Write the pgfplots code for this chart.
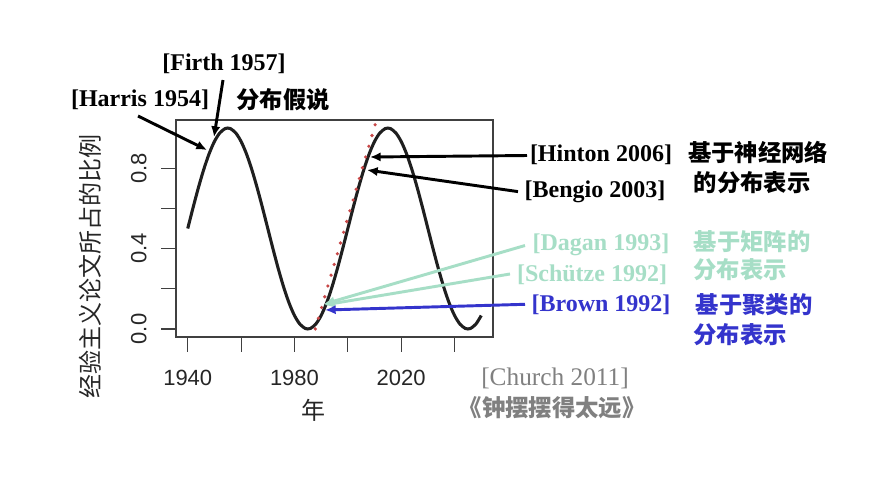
\documentclass[border=0pt]{standalone}
\usepackage{fontspec}
\usepackage{pgfplots}
\pgfplotsset{compat=1.18}
\usetikzlibrary{arrows.meta}
\setmainfont{Liberation Serif}
\newfontfamily\hel{Liberation Sans}
\newfontfamily\cjk{Noto Sans CJK SC}
\definecolor{mint}{RGB}{166,222,198}
\definecolor{cblue}{RGB}{52,52,204}
\definecolor{cgray}{RGB}{128,128,128}
\definecolor{dotred}{RGB}{200,72,72}
\begin{document}
\begin{tikzpicture}
\path[fill=white] (0,0) rectangle (653.25pt,-357pt);
\begin{axis}[
  scale only axis,
  width=237.75pt, height=162.75pt,
  anchor=north west, at={(132pt,-90pt)},
  xmin=1935.6, xmax=2054.4, ymin=-0.04, ymax=1.04,
  axis line style={draw=black!75, line width=0.8pt},
  tick style={draw=black!75, line width=0.8pt},
  tick align=outside, major tick length=11pt,
  xtick pos=left, ytick pos=left,
  xtick={1940,1960,1980,2000,2020,2040},
  xticklabels={1940,,1980,,2020,},
  ytick={0,0.2,0.4,0.6,0.8},
  yticklabels={0.0,,0.4,,0.8},
  /pgf/number format/assume math mode=true,
  ticklabel style={font=\hel\fontsize{16.5}{18}\selectfont, text=black!85},
  xticklabel style={yshift=-10.5pt},
  yticklabel style={rotate=90, anchor=south, yshift=7.5pt},
  clip=false,
]
\addplot[color=black!88, line width=2.3pt, smooth, tension=0.5] coordinates {
(1940,0.5) (1942,0.6040) (1944,0.7034) (1946,0.7939) (1948,0.8716) (1950,0.9330)
(1952,0.9755) (1954,0.9973) (1955,1.0) (1956,0.9973) (1958,0.9755) (1960,0.9330)
(1962,0.8716) (1964,0.7939) (1966,0.7034) (1968,0.6040) (1970,0.5) (1972,0.3960)
(1974,0.2966) (1976,0.2061) (1978,0.1284) (1980,0.0670) (1982,0.0245) (1984,0.0027)
(1985,0.0) (1986,0.0027) (1988,0.0245) (1990,0.0670) (1992,0.1284) (1994,0.2061)
(1996,0.2966) (1998,0.3960) (2000,0.5) (2002,0.6040) (2004,0.7034) (2006,0.7939)
(2008,0.8716) (2010,0.9330) (2012,0.9755) (2014,0.9973) (2015,1.0) (2016,0.9973)
(2018,0.9755) (2020,0.9330) (2022,0.8716) (2024,0.7939) (2026,0.7034) (2028,0.6040)
(2030,0.5) (2032,0.3960) (2034,0.2966) (2036,0.2061) (2038,0.1284) (2040,0.0670)
(2042,0.0245) (2044,0.0027) (2045,0.0) (2046,0.0027) (2048,0.0245) (2050,0.0670)
};
\addplot[color=dotred, line width=2.7pt, line cap=round, dash pattern=on 0pt off 8.4pt] coordinates {
(1987.8,0.0) (2010.3,1.02)
};
\end{axis}
\begin{scope}[x=0.75pt,y=-0.75pt]
% axis labels
\node[rotate=90, font=\cjk\fontsize{18}{20}\selectfont, text=black!85] at (90,266) {经验主义论文所占的比例};
\node[font=\cjk\fontsize{18}{20}\selectfont, text=black!85] at (313,410) {年};
% black arrows
\draw[line width=2.2pt, -{Latex[length=8pt,width=7pt]}] (138,116) -- (207,150);
\draw[line width=2.2pt, -{Latex[length=8pt,width=7pt]}] (223,80) -- (214,137);
\draw[line width=2.2pt, -{Latex[length=8pt,width=7pt]}] (527,155.5) -- (370,157);
\draw[line width=2.2pt, -{Latex[length=8pt,width=7pt]}] (518,191.6) -- (367,170);
% coloured arrows
\draw[mint, line width=2.2pt, -{Latex[length=8pt,width=7pt]}] (525,245.5) -- (324,304);
\draw[mint, line width=2.2pt, -{Latex[length=8pt,width=7pt]}] (510,274) -- (324,305);
\draw[cblue, line width=2.2pt, -{Latex[length=8pt,width=7pt]}] (525,304.3) -- (325,310);
% texts
\def\ref{\bfseries\fontsize{18}{20}\selectfont}
\def\zh{\cjk\bfseries\fontsize{17.5}{20}\selectfont}
\node[font=\ref] at (224,64) {[Firth 1957]};
\node[font=\ref] at (140,100) {[Harris 1954]};
\node[font=\zh] at (283,100) {分布假说};
\node[font=\ref] at (601,155) {[Hinton 2006]};
\node[font=\zh] at (758,152) {基于神经网络};
\node[font=\zh] at (752,183) {的分布表示};
\node[font=\ref] at (595,192) {[Bengio 2003]};
\node[font=\ref, text=mint] at (601,245) {[Dagan 1993]};
\node[font=\zh, text=mint] at (752,242) {基于矩阵的};
\node[font=\zh, text=mint] at (740,270) {分布表示};
\node[font=\ref, text=mint] at (592,275) {[Schütze 1992]};
\node[font=\ref, text=cblue] at (601,305) {[Brown 1992]};
\node[font=\zh, text=cblue] at (754,305) {基于聚类的};
\node[font=\zh, text=cblue] at (740,335) {分布表示};
\node[font=\fontsize{19}{20}\selectfont, text=cgray] at (555,378) {[Church 2011]};
\node[font=\zh, text=cgray] at (552,408) {《钟摆摆得太远》};
\end{scope}
\end{tikzpicture}
\end{document}
